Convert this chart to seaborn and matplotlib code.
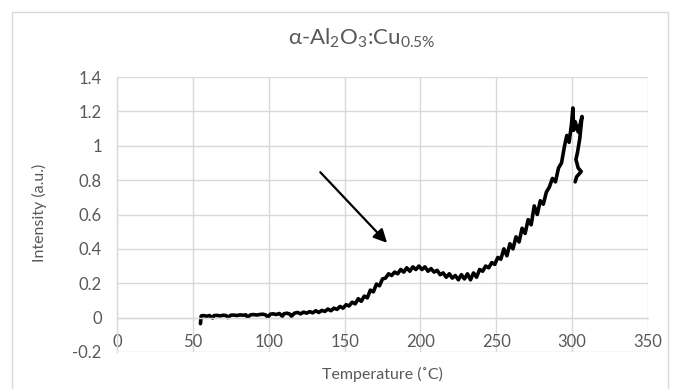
"""
TL glow curve of alpha-Al2O3:Cu 0.5% redrawn with seaborn
"""
import matplotlib
matplotlib.use('Agg')
import matplotlib.pyplot as plt
import seaborn as sns

# temperature (C) in acquisition order (the last points loop back)
temperature = [
    55, 55.5, 57, 59, 61, 63, 64, 66, 68, 70,
    72, 73, 75, 77, 79, 81, 83, 85, 86, 88,
    90, 92, 94, 96, 98, 99.5, 101, 103, 105, 107,
    109, 110, 112, 114, 115, 117, 119, 121, 123, 125,
    127, 129, 131, 133, 135, 137, 139, 141, 143, 145,
    147, 149, 151, 153, 155, 157, 159, 161, 163, 165,
    167, 169, 171, 173, 175, 177, 179, 181, 183, 185,
    187, 189, 191, 193, 195, 197, 199, 201, 203, 205,
    207, 209, 211, 213, 215, 217, 219, 221, 223, 225,
    227, 229, 231, 233, 235, 237, 239, 241, 243, 245,
    247, 249, 251, 253, 255, 257, 259, 261, 263, 265,
    267, 269, 271, 273, 275, 277, 279, 281, 283, 285,
    287, 289, 291, 293, 295, 296.5, 298, 299.5, 300.5, 301,
    302, 304, 306.5, 305, 303.5, 302.5, 304, 306, 303, 302,
]

# intensity (a.u.)
intensity = [
    -0.035, 0.010, 0.012, 0.008, 0.012, -0.002, 0.012, 0.013, 0.010, 0.014,
    0.012, 0.000, 0.014, 0.015, 0.012, 0.016, 0.014, 0.016, 0.002, 0.016,
    0.018, 0.015, 0.018, 0.020, 0.016, 0.002, 0.020, 0.022, 0.018, 0.024,
    0.008, 0.022, 0.026, 0.020, 0.008, 0.026, 0.030, 0.022, 0.032, 0.026,
    0.035, 0.028, 0.040, 0.030, 0.042, 0.036, 0.050, 0.040, 0.055, 0.048,
    0.065, 0.055, 0.075, 0.068, 0.090, 0.080, 0.110, 0.095, 0.125, 0.115,
    0.160, 0.150, 0.195, 0.185, 0.225, 0.230, 0.255, 0.245, 0.265, 0.255,
    0.280, 0.265, 0.290, 0.270, 0.295, 0.280, 0.300, 0.280, 0.295, 0.270,
    0.285, 0.265, 0.275, 0.250, 0.260, 0.235, 0.255, 0.230, 0.245, 0.220,
    0.250, 0.225, 0.255, 0.220, 0.260, 0.235, 0.280, 0.270, 0.300, 0.290,
    0.320, 0.310, 0.350, 0.340, 0.400, 0.360, 0.430, 0.400, 0.470, 0.440,
    0.520, 0.490, 0.570, 0.540, 0.650, 0.600, 0.680, 0.660, 0.730, 0.760,
    0.810, 0.790, 0.870, 0.900, 1.000, 1.060, 1.020, 1.120, 1.220, 1.090,
    1.140, 1.080, 1.170, 1.040, 0.960, 0.920, 0.870, 0.850, 0.820, 0.790,
]

x_ticks = [0, 50, 100, 150, 200, 250, 300, 350]
y_ticks = [-0.2, 0, 0.2, 0.4, 0.6, 0.8, 1, 1.2, 1.4]
y_labels = ['-0.2', '0', '0.2', '0.4', '0.6', '0.8', '1', '1.2', '1.4']

# arrow pointing at the shoulder near 180 C
arrow_start = (134, 0.846)
arrow_end = (178, 0.435)

sns.set_style('white')
plt.rcParams['font.family'] = ['Lato', 'DejaVu Sans']
plt.rcParams['mathtext.default'] = 'regular'

text_color = '#595959'
grid_color = '#d9d9d9'

fig = plt.figure(figsize=(6.76, 3.89), dpi=100)
ax = fig.add_axes([117 / 676, 1 - 352 / 389, 531 / 676, 275 / 389])

# grid
ax.set_xticks(x_ticks)
ax.set_yticks(y_ticks)
ax.set_yticklabels(y_labels)
ax.grid(True, color=grid_color, linewidth=1)
ax.set_axisbelow(True)

sns.lineplot(x=temperature, y=intensity, sort=False, estimator=None,
             color='black', linewidth=2.6, ax=ax)

ax.annotate('', xy=arrow_end, xytext=arrow_start,
            arrowprops=dict(arrowstyle='-|>', color='black', lw=1.6,
                            mutation_scale=20, shrinkA=0, shrinkB=0))

ax.set_xlim(0, 350)
ax.set_ylim(-0.2, 1.4)
for side in ['top', 'right']:
    ax.spines[side].set_visible(False)
# horizontal axis crosses at zero, like the spreadsheet default
ax.spines['bottom'].set_position(('data', 0))
for side in ['left', 'bottom']:
    ax.spines[side].set_color(grid_color)
    ax.spines[side].set_linewidth(1)
ax.tick_params(length=0, labelsize=12, colors=text_color)
ax.tick_params(axis='x', pad=12)
ax.tick_params(axis='y', pad=11)

ax.set_xlabel('')
ax.set_ylabel('')
fig.text(382 / 676, 1 - 374 / 389, 'Temperature (˚C)', fontsize=11.5,
         color=text_color, ha='center', va='center')
fig.text(39 / 676, 1 - 213 / 389, 'Intensity (a.u.)', fontsize=11.5,
         color=text_color, ha='center', va='center', rotation=90)
fig.text(362 / 676, 1 - 38 / 389, 'α-Al$_2$O$_3$:Cu$_{0.5\\%}$', fontsize=16,
         color=text_color, ha='center', va='center')

# chart border
border = plt.Rectangle((12 / 676, -0.01), 656 / 676, 1 - 12 / 389 + 0.01,
                       transform=fig.transFigure, fill=False,
                       edgecolor=grid_color, linewidth=1)
fig.patches.append(border)

fig.savefig('out.png', dpi=100)
